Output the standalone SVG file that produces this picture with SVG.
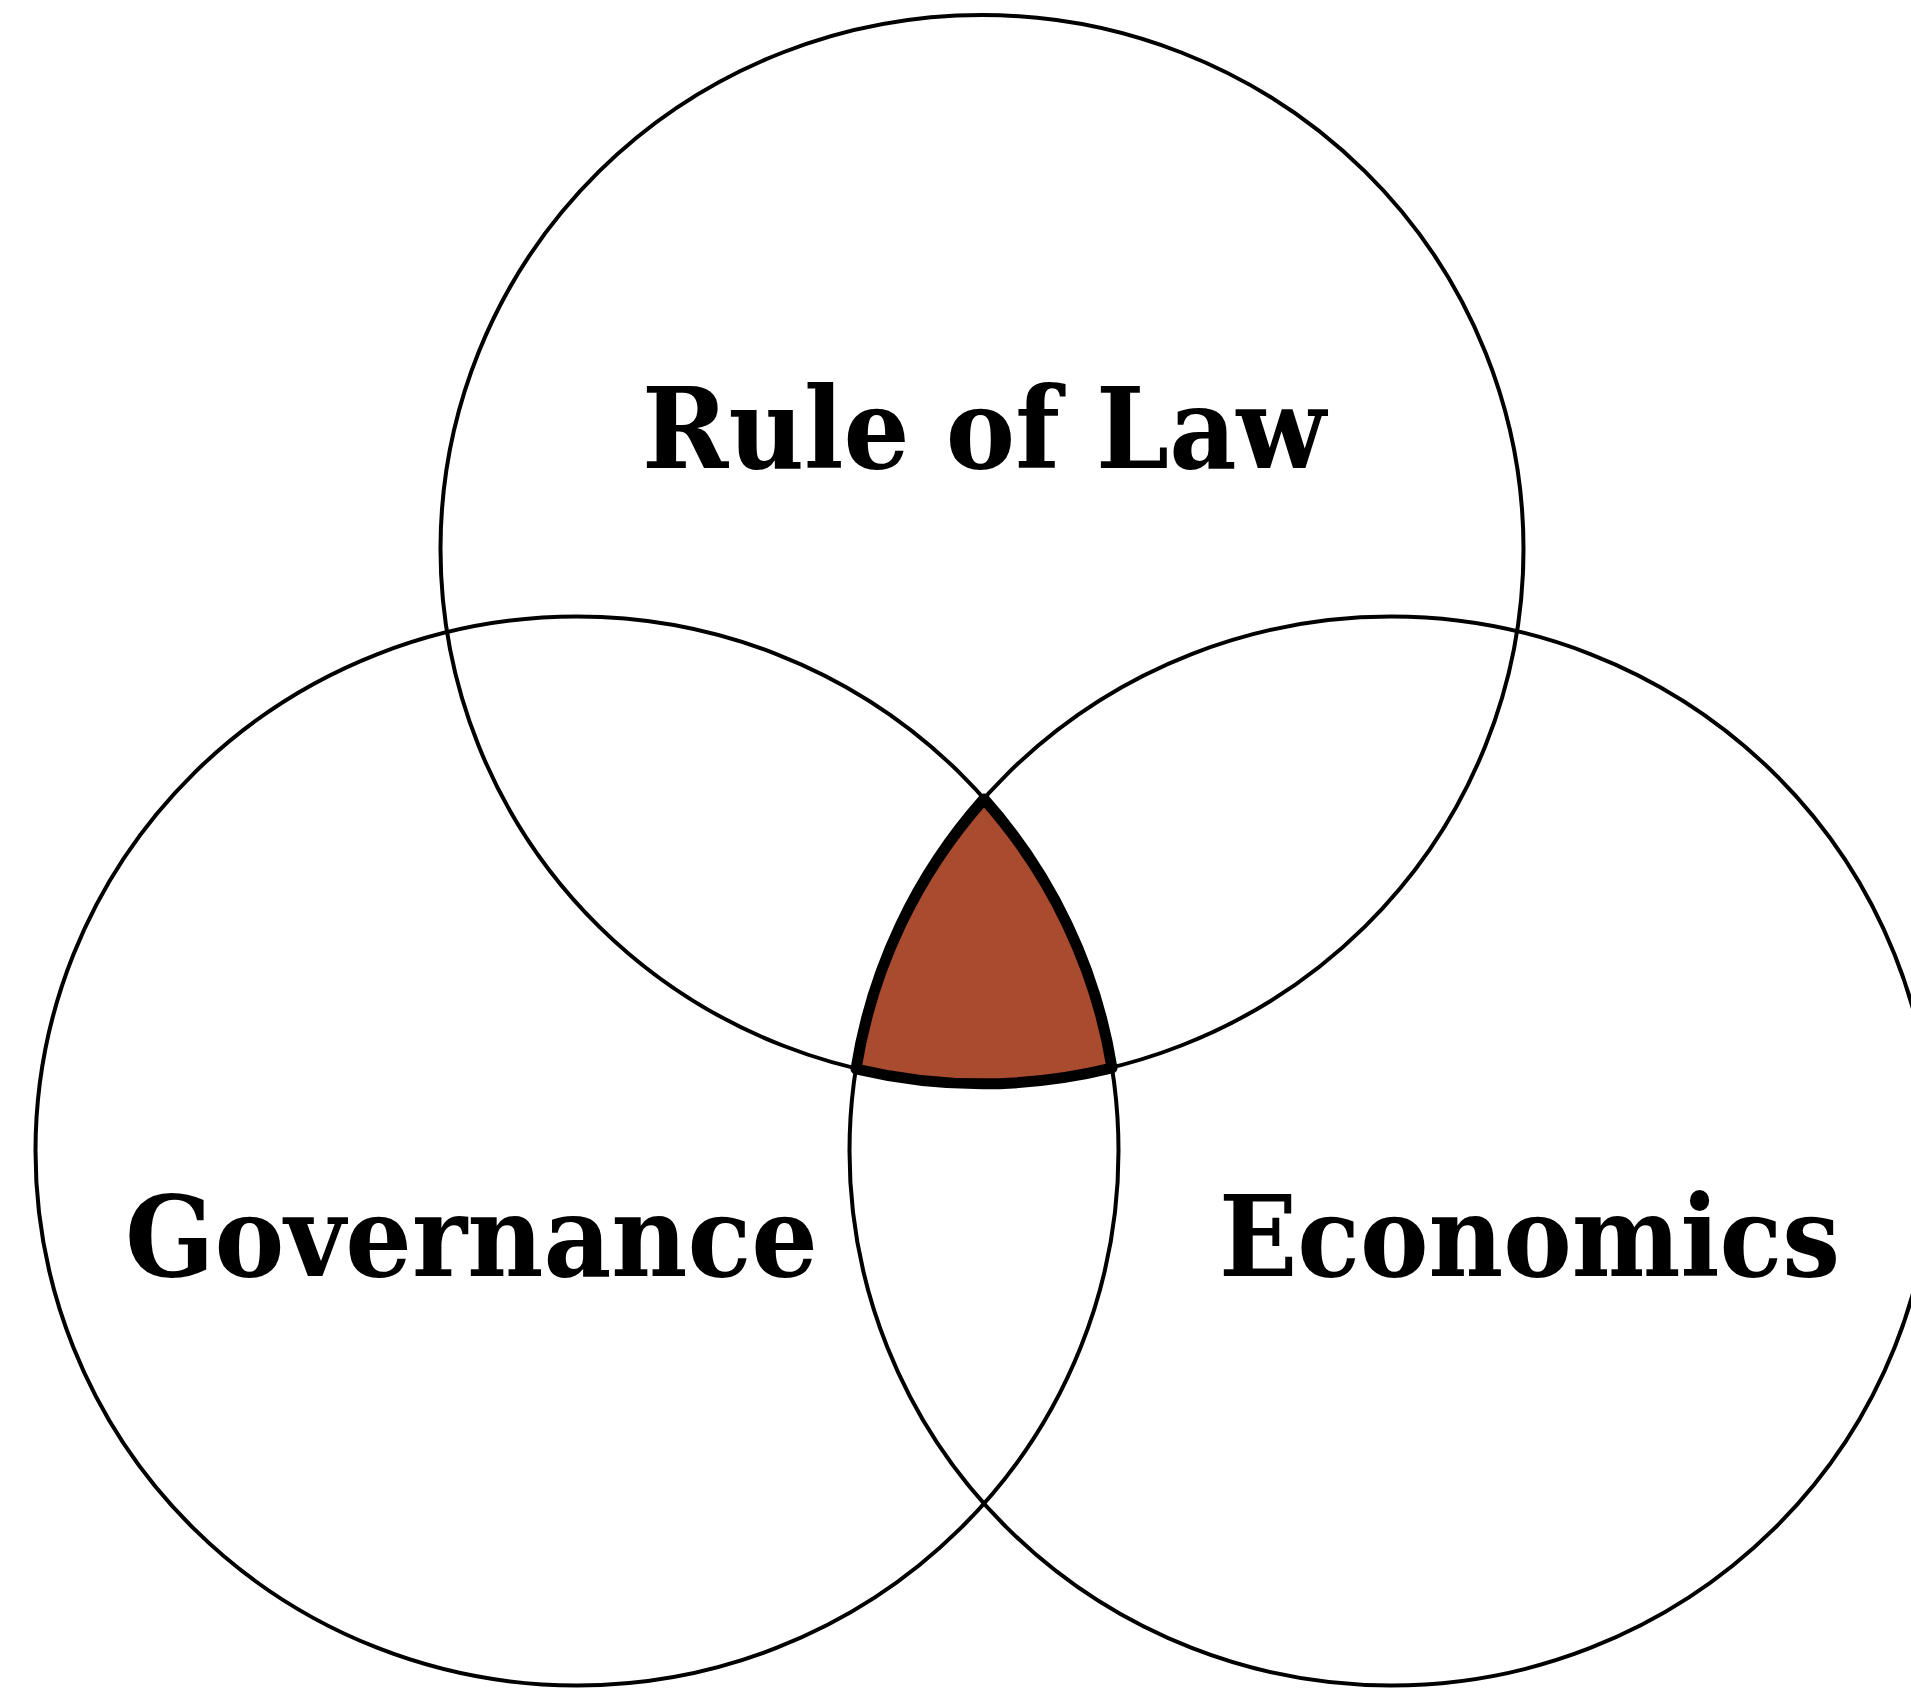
<svg xmlns="http://www.w3.org/2000/svg" width="1911" height="1688" viewBox="0 0 1911 1688">
<style>
.c{fill:none;stroke:#000;stroke-width:4}
.lbl{font-family:"DejaVu Serif","Liberation Serif",serif;font-weight:bold;font-size:112px;fill:#000}
.core{fill:#A84B2F;stroke:#000;stroke-width:11;stroke-linejoin:round}
</style>
<rect width="1911" height="1688" fill="#fff"/>
<g id="core">
<path class="core" d="M 984 799 A 541.5 534.5 0 0 1 1112 1068 A 541.5 534.5 0 0 1 856 1069 A 541.5 534.5 0 0 1 984 799 Z"/>
</g>
<g id="rule-of-law">
<ellipse class="c" cx="982" cy="549" rx="541.5" ry="534"/>
<text class="lbl" x="642" y="468" textLength="684" lengthAdjust="spacingAndGlyphs">Rule of Law</text>
</g>
<g id="governance">
<ellipse class="c" cx="577" cy="1151" rx="541.5" ry="534.5"/>
<text class="lbl" x="125" y="1276" textLength="693" lengthAdjust="spacingAndGlyphs">Governance</text>
</g>
<g id="economics">
<ellipse class="c" cx="1391" cy="1151" rx="541.5" ry="534.5"/>
<text class="lbl" x="1219" y="1276" textLength="621" lengthAdjust="spacingAndGlyphs">Economics</text>
</g>
<g id="connectors"></g>
</svg>
